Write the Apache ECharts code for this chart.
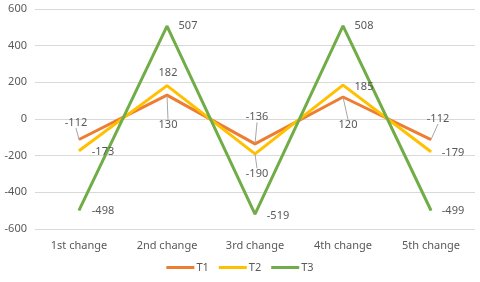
<!DOCTYPE html>
<html><head><meta charset="utf-8">
<script src="https://cdn.jsdelivr.net/npm/echarts@6/dist/echarts.min.js"></script>
<style>html,body{margin:0;padding:0;background:#fff}#c{width:480px;height:282px}</style>
</head><body><div id="c"></div>
<script>
const categories = ['1st change', '2nd change', '3rd change', '4th change', '5th change'];
const seriesNames = ['T1', 'T2', 'T3'];
const t1 = [-112, 130, -136, 120, -112];
const t2 = [-173, 182, -190, 185, -179];
const t3 = [-498, 507, -519, 508, -499];
const yTicks = [-600, -400, -200, 0, 200, 400, 600];

// label offsets (px) from the point, and whether a leader line is shown
const offT1 = [[-3, -17, 1], [1, 30, 1], [2, -27, 1], [5, 28, 1], [7, -21, 1]];
const offT2 = [[24, 1, 0], [1, -13, 0], [2, 20, 1], [21, 2, 0], [22, 1, 0]];
const offT3 = [[24, 1, 0], [21, 0, 0], [23, 2, 0], [21, 0, 0], [22, 0, 0]];
const colors = ['#ED7D31', '#FFC000', '#70AD47'];

const font = '"Noto Sans", "Open Sans", sans-serif';
const chart = echarts.init(document.getElementById('c'), null, {renderer: 'canvas'});

function mk(name, vals, offs, color) {
  return {
    name: name, type: 'line', data: vals.map((v, i) => ({
      value: v,
      labelLine: {show: !!offs[i][2]}
    })),
    symbol: 'circle', symbolSize: 1, showSymbol: true,
    lineStyle: {width: 3, color: color}, itemStyle: {color: color},
    label: {show: true, position: 'inside', color: '#595959', fontSize: 11, fontFamily: font},
    labelLine: {show: false, lineStyle: {color: '#A6A6A6', width: 1}},
    labelLayout: function (p) {
      const o = offs[p.dataIndex];
      return {dx: o[0], dy: o[1]};
    },
    emphasis: {disabled: true},
    animation: false
  };
}

chart.setOption({
  animation: false,
  color: colors,
  grid: {left: 35, right: 5, top: 9, bottom: 53},
  xAxis: {
    type: 'category', data: categories, boundaryGap: true,
    axisLine: {show: false}, axisTick: {show: false},
    axisLabel: {color: '#595959', fontSize: 11, fontFamily: font, margin: 11}
  },
  yAxis: {
    type: 'value', min: yTicks[0], max: yTicks[yTicks.length - 1], interval: 200,
    axisLine: {show: false}, axisTick: {show: false},
    axisLabel: {color: '#595959', fontSize: 11, fontFamily: font, margin: 8},
    splitLine: {lineStyle: {color: '#D9D9D9', width: 1}}
  },
  legend: {
    data: seriesNames, bottom: 4, left: 'center', icon: 'rect',
    itemWidth: 28, itemHeight: 3, itemGap: 10,
    textStyle: {color: '#595959', fontSize: 11, fontFamily: font, padding: [0, 0, 0, -3]}
  },
  series: [mk('T1', t1, offT1, colors[0]), mk('T2', t2, offT2, colors[1]), mk('T3', t3, offT3, colors[2])]
});
</script></body></html>
